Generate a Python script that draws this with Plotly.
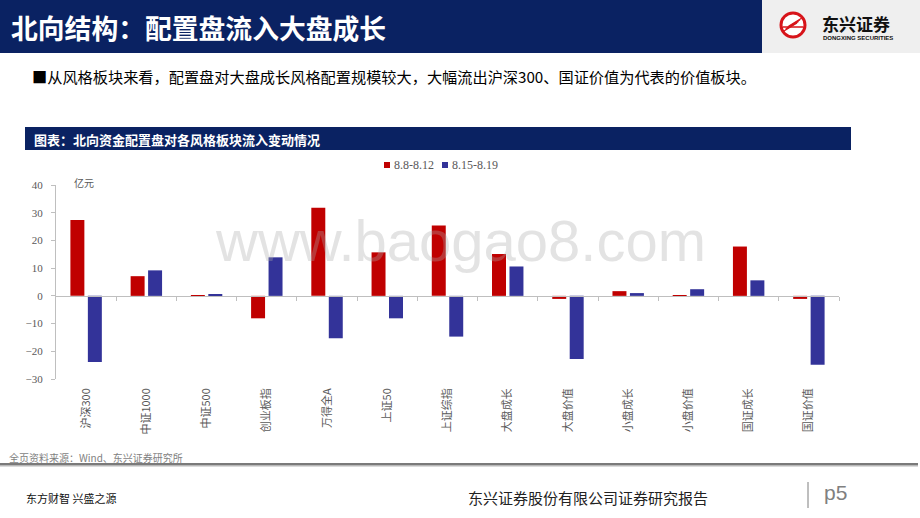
import plotly.graph_objects as go

categories = ["沪深300", "中证1000", "中证500", "创业板指", "万得全A", "上证50", "上证综指",
              "大盘成长", "大盘价值", "小盘成长", "小盘价值", "国证成长", "国证价值"]
series1_name = "8.8-8.12"
series1 = [27.4, 7.1, -0.4, -8.1, 31.8, 15.7, 25.4, 15.1, -1.1, 1.7, -0.4, 17.8, -1.1]
series2_name = "8.15-8.19"
series2 = [-23.9, 9.2, 0.6, 13.9, -15.3, -8.1, -14.7, 10.6, -22.8, 1.0, 2.4, 5.6, -24.9]
y_ticks = [-30, -20, -10, 0, 10, 20, 30, 40]

RED, BLUE = "#C00000", "#333399"
W, H = 920, 518
L, R, T, B = 56, 81, 185, 139
PW, PH = W - L - R, H - T - B
YMIN, YMAX = -30, 40


def px(x):
    return (x - L) / PW


def py(y):
    return (H - B - y) / PH


fig = go.Figure()
fig.add_trace(go.Bar(x=categories, y=series1, name=series1_name, showlegend=False,
                     marker=dict(color=RED, line=dict(width=0))))
fig.add_trace(go.Bar(x=categories, y=series2, name=series2_name, showlegend=False,
                     marker=dict(color=BLUE, line=dict(width=0))))
# helper trace so the zero-position category-boundary axis is drawn
fig.add_trace(go.Scatter(x=[-0.5, len(categories) - 0.5], y=[0, 0], xaxis="x2", yaxis="y",
                         mode="markers", marker=dict(opacity=0), showlegend=False,
                         hoverinfo="skip"))

shapes = []
# header band
shapes.append(dict(type="rect", xref="paper", yref="paper", x0=px(0), x1=px(762), y0=py(0), y1=py(53),
                   fillcolor="#0a2262", line=dict(width=0), layer="below"))
shapes.append(dict(type="rect", xref="paper", yref="paper", x0=px(762), x1=px(920), y0=py(0), y1=py(53),
                   fillcolor="#efefef", line=dict(width=0), layer="below"))
# logo
shapes.append(dict(type="circle", xref="paper", yref="paper", x0=px(781), x1=px(805), y0=py(13), y1=py(37),
                   fillcolor="#ffffff", line=dict(color="#d7141a", width=3)))
for i in range(4):
    shapes.append(dict(type="line", xref="paper", yref="paper",
                       x0=px(784 + i * 1.5), x1=px(797 + i * 1.5), y0=py(31 - i * 1.6), y1=py(23 - i * 1.6),
                       line=dict(color="#d7141a", width=1.3)))
shapes.append(dict(type="line", xref="paper", yref="paper", x0=px(783), x1=px(803), y0=py(27), y1=py(27),
                   line=dict(color="#d7141a", width=1.5)))
# subtitle band
shapes.append(dict(type="rect", xref="paper", yref="paper", x0=px(25), x1=px(851), y0=py(127), y1=py(150),
                   fillcolor="#0a2262", line=dict(width=0), layer="below"))
# legend swatches
shapes.append(dict(type="rect", xref="paper", yref="paper", x0=px(384), x1=px(390), y0=py(162), y1=py(168),
                   fillcolor=RED, line=dict(width=0)))
shapes.append(dict(type="rect", xref="paper", yref="paper", x0=px(442), x1=px(448), y0=py(162), y1=py(168),
                   fillcolor=BLUE, line=dict(width=0)))
# footer rule
shapes.append(dict(type="rect", xref="paper", yref="paper", x0=px(0), x1=px(918), y0=py(463), y1=py(465),
                   fillcolor="#7a7a7a", line=dict(width=0)))
shapes.append(dict(type="rect", xref="paper", yref="paper", x0=px(0), x1=px(918), y0=py(465), y1=py(466.5),
                   fillcolor="#b8b8b8", line=dict(width=0)))
# footer divider
shapes.append(dict(type="line", xref="paper", yref="paper", x0=px(808), x1=px(808), y0=py(482), y1=py(508),
                   line=dict(color="#7f7f7f", width=1)))

CJK = "Noto Sans CJK SC"
annotations = [
    dict(text="<b>北向结构：配置盘流入大盘成长</b>", x=px(9), y=py(27), xanchor="left", yanchor="middle",
         font=dict(family=CJK, size=26.8, color="#ffffff")),
    dict(text="<b>东兴证券</b>", x=px(820), y=py(23), xanchor="left", yanchor="middle",
         font=dict(family=CJK, size=17, color="#111111")),
    dict(text="<b>DONGXING SECURITIES</b>", x=px(821), y=py(38), xanchor="left", yanchor="middle",
         font=dict(family="Liberation Sans", size=6, color="#111111")),
    dict(text="■从风格板块来看，配置盘对大盘成长风格配置规模较大，大幅流出沪深300、国证价值为代表的价值板块。",
         x=px(30), y=py(76), xanchor="left", yanchor="middle",
         font=dict(family=CJK, size=15.2, color="#000000")),
    dict(text="<b>图表：北向资金配置盘对各风格板块流入变动情况</b>", x=px(32), y=py(139), xanchor="left",
         yanchor="middle", font=dict(family=CJK, size=13, color="#ffffff")),
    dict(text=series1_name, x=px(392), y=py(165), xanchor="left", yanchor="middle",
         font=dict(family="Liberation Serif", size=12, color="#595959")),
    dict(text=series2_name, x=px(450), y=py(165), xanchor="left", yanchor="middle",
         font=dict(family="Liberation Serif", size=12, color="#595959")),
    dict(text="亿元", x=px(72), y=py(182), xanchor="left", yanchor="middle",
         font=dict(family=CJK, size=10, color="#595959")),
    dict(text="www.baogao8.com", x=px(460), y=py(240), xanchor="center", yanchor="middle",
         font=dict(family="Liberation Sans", size=58, color="rgba(170,170,170,0.33)")),
    dict(text="全页资料来源：Wind、东兴证券研究所", x=px(7), y=py(457), xanchor="left", yanchor="middle",
         font=dict(family=CJK, size=10, color="#7f7f7f")),
    dict(text="东方财智 兴盛之源", x=px(24), y=py(498), xanchor="left", yanchor="middle",
         font=dict(family=CJK, size=11, color="#111111")),
    dict(text="东兴证券股份有限公司证券研究报告", x=px(588), y=py(497), xanchor="center", yanchor="middle",
         font=dict(family=CJK, size=15, color="#222222")),
    dict(text="p5", x=px(822), y=py(492), xanchor="left", yanchor="middle",
         font=dict(family="Liberation Sans", size=21, color="#808080")),
]
for a in annotations:
    a.update(xref="paper", yref="paper", showarrow=False)

fig.update_layout(
    width=W, height=H,
    margin=dict(l=L, r=R, t=T, b=B, pad=0),
    paper_bgcolor="#ffffff", plot_bgcolor="#ffffff",
    barmode="group", bargap=0.42, bargroupgap=0.2,
    showlegend=False,
    xaxis=dict(type="category", range=[-0.5, len(categories) - 0.5], showline=False, ticks="",
               showgrid=False, zeroline=False, tickangle=-90,
               tickfont=dict(family=CJK, size=11, color="#595959"), ticklabelstandoff=6),
    xaxis2=dict(overlaying="x", anchor="free", position=(0 - YMIN) / (YMAX - YMIN),
                range=[-0.5, len(categories) - 0.5], showline=True, linecolor="#bfbfbf", linewidth=1,
                ticks="outside", ticklen=4, tickcolor="#bfbfbf",
                tickvals=[i + 0.5 for i in range(len(categories))], showticklabels=False,
                showgrid=False, zeroline=False, side="bottom"),
    yaxis=dict(range=[YMIN, YMAX], tickvals=y_ticks, showline=True, linecolor="#bfbfbf", linewidth=1,
               ticks="outside", ticklen=4, tickcolor="#bfbfbf", showgrid=False, zeroline=False,
               tickfont=dict(family="Liberation Serif", size=11, color="#595959"), ticklabelstandoff=6),
    shapes=shapes,
    annotations=annotations,
)

fig.write_html("out.html", config={"displayModeBar": False},
               post_script="document.body.style.margin='0';document.body.style.overflow='hidden';")
